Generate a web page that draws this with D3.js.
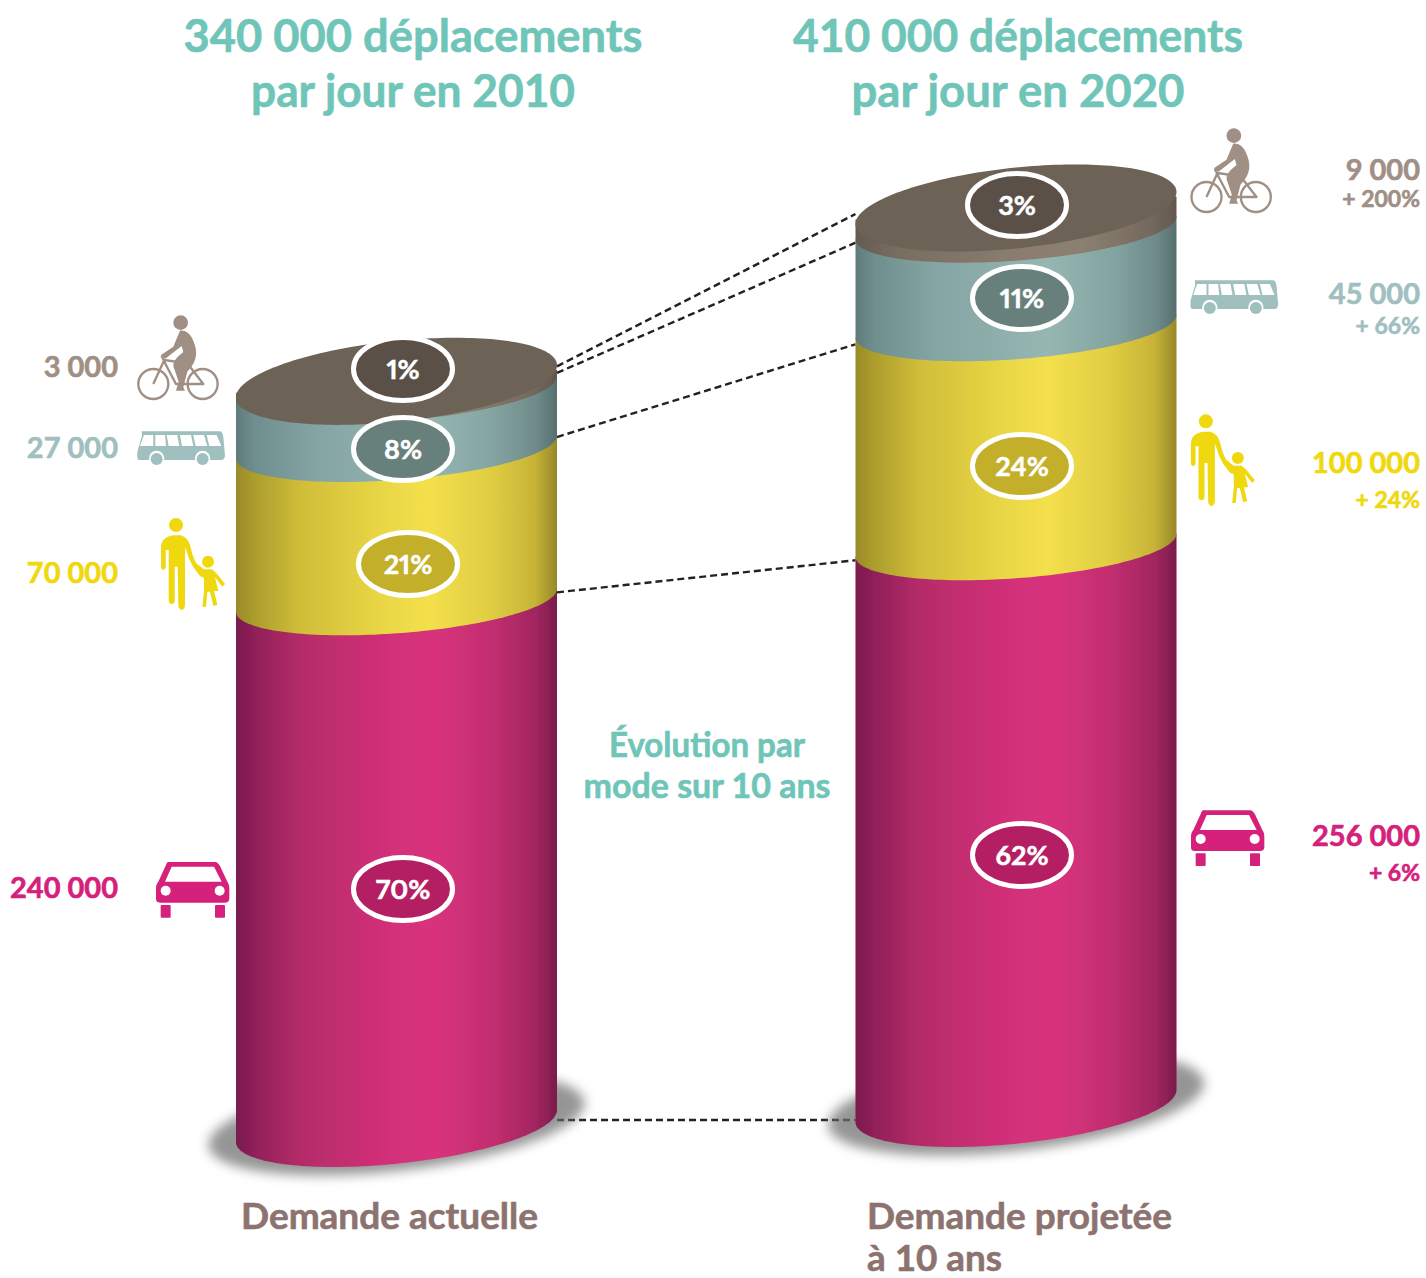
<!DOCTYPE html>
<html lang="fr">
<head>
<meta charset="utf-8">
<title>Demande de déplacements par mode</title>
<script src="https://cdn.jsdelivr.net/npm/d3@7"></script>
<style>
  html, body { margin: 0; padding: 0; background: #fff; }
  svg { display: block; }
  text { font-family: Lato, "Open Sans", sans-serif; font-weight: 700; }
  text.share { font-variant-numeric: proportional-nums; font-feature-settings: "pnum" 1; }
</style>
</head>
<body>
<svg id="chart" width="1426" height="1278" viewBox="0 0 1426 1278"></svg>
<script>
// Data: trips per day by mode, stacked from the bottom of each column
const modes = ["voiture", "pieton", "bus", "velo"];
const trips2010 = [240000, 70000, 27000, 3000];
const trips2020 = [256000, 100000, 45000, 9000];
const shareLabels2010 = ["70%", "21%", "8%", "1%"];
const shareLabels2020 = ["62%", "24%", "11%", "3%"];
const tripLabels2010 = ["240 000", "70 000", "27 000", "3 000"];
const tripLabels2020 = ["256 000", "100 000", "45 000", "9 000"];
const growthLabels = ["+ 6%", "+ 24%", "+ 66%", "+ 200%"];
const columnNames = ["2010", "2020"];

// Layout
const W = 1426, H = 1278;
const columnX = d3.scalePoint().domain(columnNames).range([396.5, 1016]);
const baseY = { "2010": 1126, "2020": 1106 };
const radiusX = 160.5;
// One height scale shared by both columns
const heightScale = d3.scaleLinear().domain([0, 410000]).range([0, 898]);
const badgeY = { "2010": [889, 564, 449, 369], "2020": [855, 466, 298, 205] };
const badgeX = { "2010": [403, 408, 403, 403], "2020": [1022, 1022, 1022, 1017] };
const leftLabelY = [898, 583, 458, 377];
const rightLabelY = [846, 473, 304, 180];
const rightGrowthY = [881, 508, 334, 207];
const linkEdge = [[-15, 6], [-15, 15], [-10, 18], [-8, 15], [-6, 14]];

// Side shading and text colours per mode
const shades = {
  voiture: [[0, "#791a4e"], [.05, "#8d1f58"], [.2, "#b42c68"], [.45, "#d02f78"], [.62, "#d9327d"], [.8, "#c12e70"], [.93, "#a32660"], [1, "#7a1c4c"]],
  pieton:  [[0, "#988a28"], [.05, "#aa9b2d"], [.2, "#d0bd39"], [.45, "#e9d645"], [.6, "#f4e04c"], [.8, "#dfcc42"], [.93, "#c7b437"], [1, "#96882a"]],
  bus:     [[0, "#5e7b7a"], [.06, "#6f8f8e"], [.25, "#84a5a4"], [.6, "#96b6b2"], [.8, "#84a4a2"], [.94, "#6d8a88"], [1, "#566f6e"]],
  velo:    [[0, "#655a50"], [.12, "#786c60"], [.5, "#8a7d70"], [.7, "#8c8072"], [.92, "#75695e"], [1, "#62574e"]]
};
const labelColor = { voiture: "#d5207c", pieton: "#f0d80e", bus: "#9fc0bf", velo: "#a08f84" };
const badgeFill = { voiture: "#b41f64", pieton: "#c3af2a", bus: "#67807b", velo: "#5a5048" };
const teal = "#6fc5b8", mauve = "#8c7370";

const svg = d3.select("#chart");
const defs = svg.append("defs");

modes.forEach(m => {
  const g = defs.append("linearGradient").attr("id", "shade-" + m).attr("x1", 0).attr("x2", 1).attr("y1", 0).attr("y2", 0);
  g.selectAll("stop").data(shades[m]).join("stop")
    .attr("offset", d => d[0]).attr("stop-color", d => d[1]);
});
defs.append("filter").attr("id", "soft").attr("x", "-5%").attr("y", "-5%").attr("width", "110%").attr("height", "110%")
  .append("feGaussianBlur").attr("stdDeviation", 0.7);
defs.append("filter").attr("id", "shadowBlur").attr("x", "-20%").attr("y", "-50%").attr("width", "140%").attr("height", "200%")
  .append("feGaussianBlur").attr("stdDeviation", 6);

// Tilted ellipse points between two angles
const arcLine = d3.line();
function arcPoints(cx, cy, a, b, slope, from, to) {
  return d3.range(from, to + 1, 2).map(deg => {
    const t = deg * Math.PI / 180;
    return [cx + a * Math.cos(t), cy - slope * a * Math.cos(t) + b * Math.sin(t)];
  });
}

const EDGE = { b: 33, slope: 0.072 };     // boundaries between bands
const CAP = { b: 40.5, slope: 0.1 };      // top face and base

function drawColumn(name, values) {
  const cx = columnX(name), y0 = baseY[name];
  const yAt = v => y0 - heightScale(v);
  const total = d3.sum(values);

  // Ground shadow
  svg.append("path")
    .attr("d", arcLine(arcPoints(cx, y0 - 2, 188, 47, 0.11, 0, 360)) + "Z")
    .attr("fill", "#6d6d6d").attr("opacity", 0.72).attr("filter", "url(#shadowBlur)");

  const column = svg.append("g").attr("filter", "url(#soft)").attr("class", "column-" + name);
  const cum = d3.cumsum(values);
  const stacked = modes.map((m, i) => ({ m, low: i ? cum[i - 1] : 0, high: cum[i] }));

  column.selectAll("path.band").data(stacked).join("path")
    .attr("class", "band")
    .attr("fill", d => `url(#shade-${d.m})`)
    .attr("d", d => {
      const shape = d.low === 0 ? { b: 37.7, slope: 0.1 } : EDGE;
      const lower = arcPoints(cx, yAt(d.low), radiusX, shape.b, shape.slope, 0, 180);
      const cTop = yAt(d.high);
      const closing = [[cx - radiusX, cTop + EDGE.slope * radiusX], [cx + radiusX, cTop - EDGE.slope * radiusX]];
      return arcLine(lower.concat(closing)) + "Z";
    });

  // Top face
  column.append("path")
    .attr("d", arcLine(arcPoints(cx, yAt(total), radiusX, CAP.b, CAP.slope, 0, 360)) + "Z")
    .attr("fill", "#6d6257");

  return { yAt, total, cum, cx };
}

// Dashed links sit under the columns
const linksLayer = svg.append("g").attr("class", "links");

const left = drawColumn("2010", trips2010);
const right = drawColumn("2020", trips2020);

const linkLevels = [
  [left.total, right.total],
  [left.cum[2], right.cum[2]],
  [left.cum[1], right.cum[1]],
  [left.cum[0], right.cum[0]],
  [0, 0]
];
linksLayer.selectAll("line").data(linkLevels).join("line")
  .attr("x1", left.cx + radiusX)
  .attr("x2", right.cx - radiusX)
  .attr("y1", (d, i) => left.yAt(d[0]) + linkEdge[i][0])
  .attr("y2", (d, i) => right.yAt(d[1]) + linkEdge[i][1])
  .attr("stroke", "#222").attr("stroke-width", 2.4).attr("stroke-dasharray", "7 4");

// Percentage badges
function drawBadges(name, labels) {
  const g = svg.append("g").attr("class", "badges-" + name);
  const items = g.selectAll("g").data(modes).join("g")
    .attr("transform", (m, i) => `translate(${badgeX[name][i]},${badgeY[name][i]})`);
  items.append("ellipse").attr("rx", 49.5).attr("ry", 31.5)
    .attr("fill", m => badgeFill[m]).attr("stroke", "#fff").attr("stroke-width", 5);
  items.append("text").attr("class", "share").attr("text-anchor", "middle").attr("y", 10).attr("font-size", 27)
    .attr("fill", "#fff").attr("stroke", "#fff").attr("stroke-width", 0.5)
    .text((m, i) => labels[i]);
}
drawBadges("2010", shareLabels2010);
drawBadges("2020", shareLabels2020);

// Text helper: width is the set length of the line
function put(x, y, str, size, fill, anchor, width) {
  const t = svg.append("text").attr("x", x).attr("y", y).attr("font-size", size)
    .attr("fill", fill).attr("stroke", fill).attr("stroke-width", 0.6)
    .attr("text-anchor", anchor || "start").text(str);
  if (width) t.attr("textLength", width).attr("lengthAdjust", "spacingAndGlyphs");
  return t;
}

put(413, 52, "340 000 déplacements", 46, teal, "middle", 459);
put(413, 107, "par jour en 2010", 46, teal, "middle", 324);
put(1018, 52, "410 000 déplacements", 46, teal, "middle", 450);
put(1018, 107, "par jour en 2020", 46, teal, "middle", 333);
put(707, 757, "Évolution par", 34, teal, "middle", 196);
put(707, 798, "mode sur 10 ans", 34, teal, "middle", 247);
put(241, 1229, "Demande actuelle", 36, mauve, "start", 297);
put(867, 1229, "Demande projetée", 36, mauve, "start", 305);
put(867, 1271, "à 10 ans", 36, mauve, "start", 135);

modes.forEach((m, i) => {
  put(118, leftLabelY[i], tripLabels2010[i], 29, labelColor[m], "end");
  put(1420, rightLabelY[i], tripLabels2020[i], 29, labelColor[m], "end");
  put(1420, rightGrowthY[i], growthLabels[i], 23, labelColor[m], "end");
});

// Pictograms, drawn at three times their placed size
function bike(g, c) {
  g.selectAll("circle.wheel").data([[70, 222], [218, 222]]).join("circle").attr("class", "wheel")
    .attr("cx", d => d[0]).attr("cy", d => d[1]).attr("r", 45)
    .attr("fill", "none").attr("stroke", c).attr("stroke-width", 7);
  g.append("path").attr("d", "M70 222 L103 150 L172 160 L220 222 L138 222 L103 155 M95 138 L106 160")
    .attr("fill", "none").attr("stroke", c).attr("stroke-width", 7).attr("stroke-linejoin", "round");
  g.append("circle").attr("cx", 152).attr("cy", 38).attr("r", 22).attr("fill", c);
  g.append("path").attr("fill", c)
    .attr("d", "M150 62 C165 60 180 70 188 88 C198 110 202 130 195 150 C190 165 180 175 172 185 L160 232 L165 242 L138 242 L146 215 L130 168 C130 148 150 135 160 126 L155 108 L106 146 L92 136 L130 110 Z");
}
function bus(g, c) {
  g.append("path").attr("fill", c)
    .attr("d", "M35 364 L270 364 C276 365 278 370 280 380 L285 436 C285 446 280 450 275 450 L30 450 C25 450 22 447 22 440 L22 425 L36 378 Z");
  const panes = ["M42 375 L70 375 L70 408 L30 408 Z", "M76 375 L105 375 L108 408 L76 408 Z", "M110 375 L142 375 L148 408 L116 408 Z",
    "M150 375 L183 375 L190 408 L156 408 Z", "M190 375 L222 375 L232 408 L197 408 Z", "M230 375 L260 375 L274 408 L238 408 Z"];
  g.selectAll("path.pane").data(panes).join("path").attr("class", "pane").attr("d", d => d).attr("fill", "#fff");
  g.selectAll("circle.rim").data([80, 218]).join("circle").attr("class", "rim")
    .attr("cx", d => d).attr("cy", 445).attr("r", 23).attr("fill", "#fff");
  g.selectAll("circle.tyre").data([80, 218]).join("circle").attr("class", "tyre")
    .attr("cx", d => d).attr("cy", 447).attr("r", 18).attr("fill", c);
}
function family(g, c) {
  g.append("circle").attr("cx", 138).attr("cy", 645).attr("r", 21).attr("fill", c);
  g.append("circle").attr("cx", 234).attr("cy", 755).attr("r", 18).attr("fill", c);
  g.append("path").attr("fill", c)
    .attr("d", "M130 676 L150 676 C172 680 180 700 185 725 C190 745 200 765 222 795 L214 802 C195 782 178 755 172 730 L165 712 L165 885 C165 904 145 904 145 885 L143 770 L134 770 L134 872 C134 885 116 885 116 872 L116 720 L107 720 L107 770 C107 782 93 782 93 770 L93 712 C93 690 110 678 130 676 Z");
  g.append("path").attr("fill", c)
    .attr("d", "M222 778 L245 778 C250 780 262 792 285 822 L277 830 L255 802 L265 843 L252 843 L262 884 L250 888 L240 845 L232 845 L228 890 L217 890 L222 843 L222 806 L190 765 L196 758 Z");
}
function car(g, c) {
  g.append("path").attr("fill", c)
    .attr("d", "M85 36 L225 36 C232 36 236 42 240 48 L262 95 C266 100 268 108 268 115 L268 145 C268 155 262 158 255 158 L60 158 C52 158 48 155 48 145 L48 115 C48 108 50 100 55 95 L78 45 C80 40 82 36 85 36 Z");
  g.append("path").attr("fill", "#fff").attr("d", "M95 50 L222 50 L245 95 L75 95 Z");
  g.selectAll("circle").data([77, 239]).join("circle").attr("cx", d => d).attr("cy", 122).attr("r", 15).attr("fill", "#fff");
  g.selectAll("rect").data([62, 225]).join("rect").attr("x", d => d).attr("y", 165)
    .attr("width", 30).attr("height", 38).attr("rx", 3).attr("fill", c);
}

const pictograms = [
  { m: "voiture", draw: car,    origin: [48, 35],   at: [[156, 861.7], [1191, 810]] },
  { m: "pieton",  draw: family, origin: [92, 623],  at: [[160.7, 517.7], [1190.5, 414]] },
  { m: "bus",     draw: bus,    origin: [22, 363],  at: [[137.3, 431], [1190.5, 280]] },
  { m: "velo",    draw: bike,   origin: [22, 15],   at: [[137.3, 315], [1190.5, 128]] }
];
pictograms.forEach(p => {
  p.at.forEach(pos => {
    const g = svg.append("g").attr("class", "icon-" + p.m)
      .attr("transform", `translate(${pos[0]},${pos[1]}) scale(${1 / 3}) translate(${-p.origin[0]},${-p.origin[1]})`);
    p.draw(g, labelColor[p.m]);
  });
});
</script>
</body>
</html>
